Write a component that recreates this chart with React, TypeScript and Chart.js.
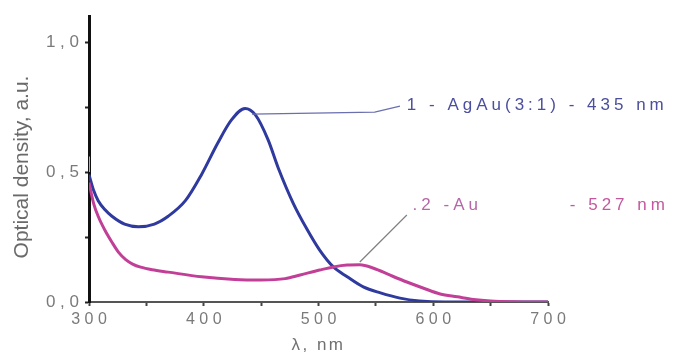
import React, { useEffect, useRef } from "react";
import { Chart, registerables } from "chart.js";

Chart.register(...registerables);

const blueWl = [300, 304, 308, 314, 320, 331, 343, 357, 369, 384, 398, 412, 424, 436, 445, 456, 465, 478, 490, 501, 513, 525, 539, 554, 571, 588, 610, 650, 700];
const blueOD = [0.49, 0.43, 0.39, 0.355, 0.33, 0.30, 0.29, 0.30, 0.33, 0.39, 0.49, 0.61, 0.70, 0.745, 0.72, 0.625, 0.515, 0.38, 0.28, 0.20, 0.135, 0.097, 0.058, 0.035, 0.015, 0.004, 0, 0, 0];

const pinkWl = [300, 304, 308, 314, 320, 326, 332, 338, 345, 355, 369, 398, 427, 450, 471, 484, 501, 513, 525, 536, 548, 562, 577, 591, 606, 621, 635, 650, 670, 700];
const pinkOD = [0.46, 0.38, 0.33, 0.275, 0.23, 0.19, 0.163, 0.146, 0.134, 0.124, 0.115, 0.097, 0.087, 0.085, 0.09, 0.104, 0.123, 0.135, 0.142, 0.143, 0.13, 0.104, 0.077, 0.054, 0.031, 0.02, 0.01, 0.004, 0.001, 0];

const greenWl = [300, 300];
const greenOD = [0.5, 0.56];

const xTickValues = [300, 400, 500, 600, 700];
const xMinorTicks = [350, 450, 550, 650];
const yTickValues = [0, 0.5, 1.0];
const yMinorTicks = [0.25, 0.75];
const label1 = "1 - AgAu(3:1) - 435 nm";
const label2a = ".2 -Au";
const label2b = "- 527 nm";
const xTitle = "λ, nm";
const yTitle = "Optical density, a.u.";

const BLUE = "#2f3a9e";
const PINK = "#c23f98";
const FONT = "'Liberation Sans', Arial, sans-serif";

const spaced = (s: string) => s.split("").join(" ");

export default function App() {
  const ref = useRef<HTMLCanvasElement>(null);
  useEffect(() => {
    document.body.style.margin = "0";
    const annot = {
      id: "annot",
      afterDatasetsDraw(chart: any) {
        const ctx = chart.ctx;
        const xs = chart.scales.x;
        const ys = chart.scales.y;
        const X = (v: number) => xs.getPixelForValue(v);
        const Y = (v: number) => ys.getPixelForValue(v);
        ctx.save();
        ctx.strokeStyle = "#6a6fb0";
        ctx.lineWidth = 1.3;
        ctx.beginPath();
        ctx.moveTo(X(442), Y(0.723));
        ctx.lineTo(X(549), Y(0.731));
        ctx.lineTo(X(571), Y(0.754));
        ctx.stroke();
        ctx.font = `17px ${FONT}`;
        (ctx as any).letterSpacing = "4px";
        ctx.textBaseline = "middle";
        ctx.textAlign = "left";
        ctx.fillStyle = "#4b4f9e";
        ctx.fillText(label1, X(577), Y(0.758));
        ctx.strokeStyle = "#808080";
        ctx.lineWidth = 1.2;
        ctx.beginPath();
        ctx.moveTo(X(536), Y(0.154));
        ctx.lineTo(X(577), Y(0.335));
        ctx.stroke();
        ctx.fillStyle = "#b667a8";
        ctx.fillText(label2a, X(582), Y(0.373));
        ctx.fillStyle = "#c4589f";
        ctx.fillText(label2b, X(719), Y(0.373));
        ctx.font = `17px ${FONT}`;
        (ctx as any).letterSpacing = "2.5px";
        ctx.fillStyle = "#707070";
        ctx.textAlign = "center";
        ctx.fillText(xTitle, (xs.left + xs.right) / 2, 345);
        (ctx as any).letterSpacing = "0px";
        ctx.font = `21px ${FONT}`;
        ctx.fillStyle = "#6a6a6a";
        ctx.translate(28, 167);
        ctx.rotate(-Math.PI / 2);
        ctx.textBaseline = "alphabetic";
        ctx.textAlign = "center";
        ctx.fillText(yTitle, 0, 0);
        ctx.restore();
      },
    };
    const chart = new Chart(ref.current!, {
      type: "line",
      data: {
        datasets: [
          {
            label: "edge",
            data: greenWl.map((x, i) => ({ x, y: greenOD[i] })),
            borderColor: "#7fd17f",
            borderWidth: 2,
            pointRadius: 0,
          },
          {
            label: "2 - Au",
            data: pinkWl.map((x, i) => ({ x, y: pinkOD[i] })),
            borderColor: PINK,
            borderWidth: 3,
            pointRadius: 0,
            cubicInterpolationMode: "monotone",
          },
          {
            label: "1 - AgAu(3:1)",
            data: blueWl.map((x, i) => ({ x, y: blueOD[i] })),
            borderColor: BLUE,
            borderWidth: 3,
            pointRadius: 0,
            cubicInterpolationMode: "monotone",
          },
        ],
      },
      options: {
        animation: false,
        responsive: false,
        maintainAspectRatio: false,
        layout: { padding: { top: 16, right: 127, left: 0, bottom: 0 } },
        plugins: { legend: { display: false }, tooltip: { enabled: false } },
        scales: {
          x: {
            type: "linear",
            min: 300,
            max: 700,
            afterBuildTicks: (s: any) => {
              s.ticks = [...xTickValues, ...xMinorTicks].sort((a, b) => a - b).map((v) => ({ value: v }));
            },
            afterFit: (s: any) => {
              s.height = 54;
            },
            ticks: {
              color: "#7a7a7a",
              font: { size: 16, family: FONT },
              padding: 4,
              maxRotation: 0,
              autoSkip: false,
              callback: (v: any) => (xTickValues.includes(v) ? spaced(String(v)) : ""),
            },
            grid: {
              drawOnChartArea: false,
              drawTicks: true,
              tickLength: 4,
              tickColor: "#444",
              tickWidth: 2,
            },
            border: { display: true, color: "#555", width: 2 },
            title: { display: false },
          },
          y: {
            type: "linear",
            min: 0,
            max: 1.1,
            afterBuildTicks: (s: any) => {
              s.ticks = [...yTickValues, ...yMinorTicks].sort((a, b) => a - b).map((v) => ({ value: v }));
            },
            afterFit: (s: any) => {
              s.width = 89;
            },
            ticks: {
              color: "#7a7a7a",
              font: { size: 17, family: FONT },
              padding: 6,
              autoSkip: false,
              callback: (v: any) =>
                yTickValues.some((t) => Math.abs(t - v) < 1e-6) ? spaced(Number(v).toFixed(1).replace(".", ",")) : "",
            },
            grid: {
              drawOnChartArea: false,
              drawTicks: true,
              tickLength: 4,
              tickColor: "#222",
              tickWidth: 2,
            },
            border: { display: true, color: "#111", width: 3 },
            title: { display: false },
          },
        },
      },
      plugins: [annot],
    } as any);
    return () => chart.destroy();
  }, []);
  return (
    <div style={{ width: 675, height: 356, background: "#fff" }}>
      <canvas ref={ref} width={675} height={356} style={{ display: "block" }} />
    </div>
  );
}
